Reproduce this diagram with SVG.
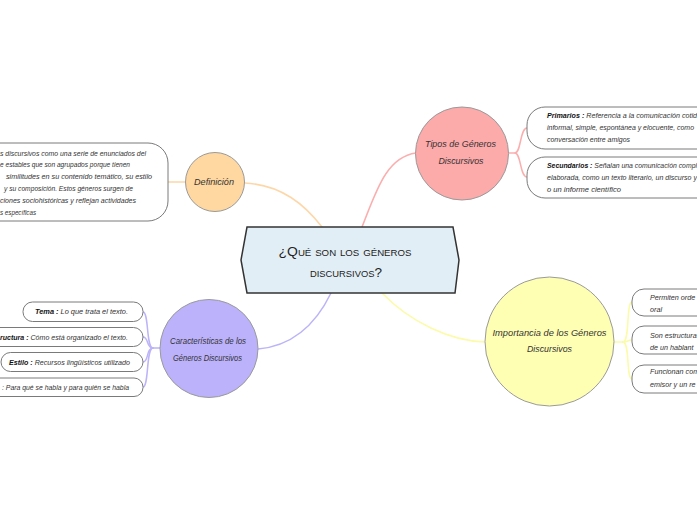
<svg xmlns="http://www.w3.org/2000/svg" width="697" height="520" viewBox="0 0 697 520">
<style>
.leaf{fill:#fff;stroke:#7a7a7a;stroke-width:1}
.node{stroke:#9a9a9a;stroke-width:1}
.t{font-family:"Liberation Sans",Arial,sans-serif;font-style:italic;font-size:7.2px;fill:#333}
.b{font-weight:bold;fill:#111}
.nl{font-family:"Liberation Sans",Arial,sans-serif;font-style:italic;font-size:9px;fill:#333;text-anchor:middle}
.c{fill:none;stroke-width:1.5;stroke-linecap:round}
.peach{stroke:#fdd7a8}
.pink{stroke:#fbaeae}
.lav{stroke:#bcb3f8}
.yel{stroke:#fbfba8}
</style>
<rect width="697" height="520" fill="#fff"/>
<g id="connectors">
<path class="c peach" d="M245,183 C282,185 305,205 322,227"/>
<path class="c peach" d="M186,182 H168"/>
<path class="c pink" d="M362,227 C376,192 386,157 416,153"/>
<path class="c pink" d="M509,153 H515 C521,153 520,128 527,128"/>
<path class="c pink" d="M515,153 C521,153 520,177 527,177"/>
<path class="c lav" d="M331,293 C315,326 292,346 258,349"/>
<path class="c lav" d="M160,348 H153 C146,348 149,312 143,312"/>
<path class="c lav" d="M153,348 C146,348 149,337 143,337"/>
<path class="c lav" d="M153,348 C146,348 149,362 143,362"/>
<path class="c lav" d="M153,348 C146,348 149,387 143,387"/>
<path class="c yel" d="M382,293 C410,322 450,341 485,342"/>
<path class="c yel" d="M614,342 H623 C630,342 626,302 632,302"/>
<path class="c yel" d="M623,342 C630,342 626,340 632,340"/>
<path class="c yel" d="M623,342 C630,342 626,379 632,379"/>
</g>
<g id="center">
<polygon points="247,227 453,227 459,260 455,293 247,293 241,260" fill="#e2eef5" stroke="#333" stroke-width="1.5"/>
<text x="345" y="256" text-anchor="middle" textLength="133" lengthAdjust="spacingAndGlyphs" style="font-family:'Liberation Sans',Arial,sans-serif;font-size:13px;font-variant:small-caps;fill:#222">¿Qué son los géneros</text>
<text x="346" y="277" text-anchor="middle" textLength="72" lengthAdjust="spacingAndGlyphs" style="font-family:'Liberation Sans',Arial,sans-serif;font-size:13px;font-variant:small-caps;fill:#222">discursivos?</text>
</g>
<g id="definicion">
<circle class="node" cx="215" cy="182" r="29.5" fill="#ffd7a0"/>
<text class="nl" x="214" y="184.5" textLength="40" lengthAdjust="spacingAndGlyphs">Definición</text>
</g>
<g id="definicion-texto">
<rect class="leaf" x="-60" y="143" width="228" height="78" rx="20"/>
<text class="t" x="0" y="155.5" textLength="146" lengthAdjust="spacingAndGlyphs">s discursivos como una serie de enunciados del</text>
<text class="t" x="0" y="167.3" textLength="130" lengthAdjust="spacingAndGlyphs">e estables que son agrupados porque tienen</text>
<text class="t" x="6" y="179.1" textLength="146" lengthAdjust="spacingAndGlyphs">similitudes en su contenido temático, su estilo</text>
<text class="t" x="4" y="190.9" textLength="129" lengthAdjust="spacingAndGlyphs">y su composición. Estos géneros surgen de</text>
<text class="t" x="0" y="202.7" textLength="136" lengthAdjust="spacingAndGlyphs">ciones sociohistóricas y reflejan actividades</text>
<text class="t" x="0" y="214.5" textLength="36" lengthAdjust="spacingAndGlyphs">s específicas</text>
</g>
<g id="tipos">
<circle class="node" cx="462" cy="153.5" r="46.5" fill="#fdaaaa"/>
<text class="nl" x="460.5" y="147" textLength="71" lengthAdjust="spacingAndGlyphs">Tipos de Géneros</text>
<text class="nl" x="461" y="164" textLength="45" lengthAdjust="spacingAndGlyphs">Discursivos</text>
</g>
<g id="primarios">
<rect class="leaf" x="527" y="107" width="240" height="42" rx="18"/>
<text class="t" x="547" y="117.5" textLength="150" lengthAdjust="spacingAndGlyphs"><tspan class="b">Primarios :</tspan> Referencia a la comunicación cotid</text>
<text class="t" x="547" y="129.5" textLength="147" lengthAdjust="spacingAndGlyphs">informal, simple, espontánea y elocuente, como</text>
<text class="t" x="547" y="141.5" textLength="83" lengthAdjust="spacingAndGlyphs">conversación entre amigos</text>
</g>
<g id="secundarios">
<rect class="leaf" x="527" y="157" width="240" height="41" rx="18"/>
<text class="t" x="547" y="167.5" textLength="150" lengthAdjust="spacingAndGlyphs"><tspan class="b">Secundarios :</tspan> Señalan una comunicación compl</text>
<text class="t" x="547" y="179.5" textLength="150" lengthAdjust="spacingAndGlyphs">elaborada, como un texto literario, un discurso y</text>
<text class="t" x="547" y="191.5" textLength="74" lengthAdjust="spacingAndGlyphs">o un informe científico</text>
</g>
<g id="caracteristicas">
<circle class="node" cx="209" cy="348.5" r="49" fill="#bcb2fb"/>
<text class="nl" x="208" y="344" textLength="76" lengthAdjust="spacingAndGlyphs">Características de los</text>
<text class="nl" x="207.5" y="360.5" textLength="69" lengthAdjust="spacingAndGlyphs">Géneros Discursivos</text>
</g>
<g id="tema">
<rect class="leaf" x="23" y="302" width="120" height="19.5" rx="9.5"/>
<text class="t" x="35" y="314" textLength="93" lengthAdjust="spacingAndGlyphs"><tspan class="b">Tema :</tspan> Lo que trata el texto.</text>
</g>
<g id="estructura">
<rect class="leaf" x="-40" y="327.5" width="183" height="19" rx="9.5"/>
<text class="t" x="0" y="339.5" textLength="128" lengthAdjust="spacingAndGlyphs"><tspan class="b">ructura :</tspan> Cómo está organizado el texto.</text>
</g>
<g id="estilo">
<rect class="leaf" x="1" y="352.5" width="142" height="19" rx="9.5"/>
<text class="t" x="9" y="364.5" textLength="121" lengthAdjust="spacingAndGlyphs"><tspan class="b">Estilo :</tspan> Recursos lingüísticos utilizado</text>
</g>
<g id="proposito">
<rect class="leaf" x="-40" y="378" width="183" height="18.5" rx="9"/>
<text class="t" x="2" y="389.5" textLength="127" lengthAdjust="spacingAndGlyphs">: Para qué se habla y para quién se habla</text>
</g>
<g id="importancia">
<circle class="node" cx="549.5" cy="341.5" r="64.5" fill="#ffffb3"/>
<text class="nl" x="549.5" y="336" textLength="114" lengthAdjust="spacingAndGlyphs">Importancia de los Géneros</text>
<text class="nl" x="549.5" y="352" textLength="45" lengthAdjust="spacingAndGlyphs">Discursivos</text>
</g>
<g id="imp1">
<rect class="leaf" x="632" y="289" width="120" height="27" rx="12"/>
<text class="t" x="650" y="299.5">Permiten orde</text>
<text class="t" x="650" y="311.5">oral</text>
</g>
<g id="imp2">
<rect class="leaf" x="632" y="326" width="120" height="28" rx="12"/>
<text class="t" x="650" y="338">Son estructura</text>
<text class="t" x="650" y="350">de un hablant</text>
</g>
<g id="imp3">
<rect class="leaf" x="632" y="365" width="120" height="28" rx="12"/>
<text class="t" x="650" y="374">Funcionan com</text>
<text class="t" x="650" y="386.5">emisor y un re</text>
</g>
</svg>
